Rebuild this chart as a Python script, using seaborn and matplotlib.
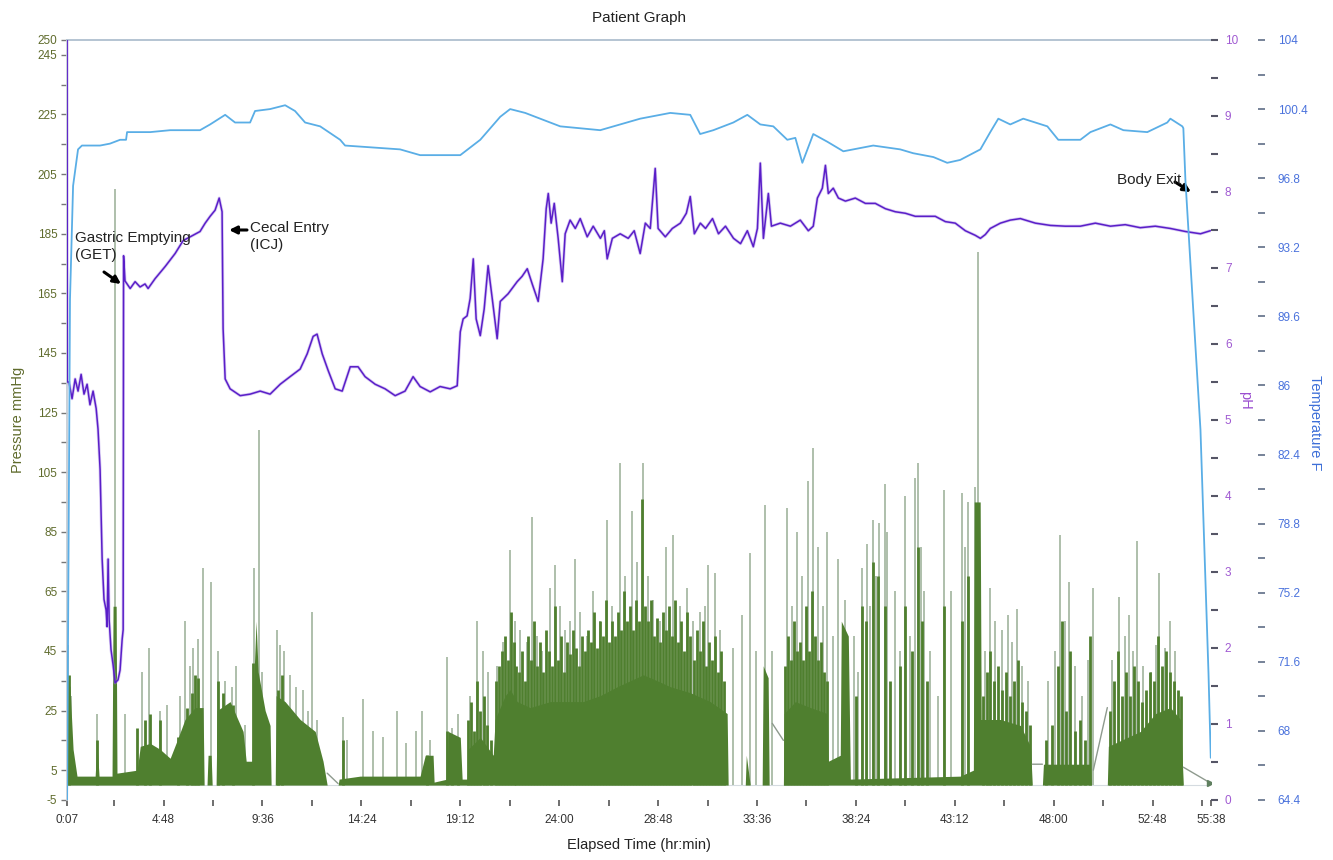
import numpy as np
import matplotlib
matplotlib.use("Agg")
import matplotlib.pyplot as plt
import seaborn as sns

# ---------------- data (time in hours) ----------------
temp_t = [0.12, 0.26, 0.41, 0.65, 0.84, 1.72, 2.20, 2.69, 2.98, 3.03, 4.15, 5.12, 6.57, 7.06, 7.79,
          8.27, 9.00, 9.24, 9.97, 10.70, 11.18, 11.67, 12.40, 13.37, 13.61, 16.28, 17.25, 19.20,
          20.17, 21.14, 21.62, 22.35, 23.32, 24.05, 25.99, 27.93, 29.39, 30.36, 30.84, 31.48,
          32.45, 33.13, 33.76, 34.39, 35.07, 35.46, 35.80, 36.33, 37.01, 37.79, 39.24, 40.55,
          41.18, 42.16, 42.83, 43.46, 44.44, 44.92, 45.31, 45.89, 46.52, 47.69, 48.22, 49.29,
          49.78, 50.75, 51.38, 52.54, 53.51, 53.66, 54.24, 54.29, 54.39, 55.12, 55.51, 55.62]
temp_f = [64.4, 90.5, 96.4, 98.3, 98.5, 98.5, 98.6, 98.8, 98.8, 99.2, 99.2, 99.3, 99.3, 99.6, 100.1,
          99.7, 99.7, 100.3, 100.4, 100.6, 100.3, 99.7, 99.5, 98.8, 98.5, 98.3, 98.0, 98.0,
          98.8, 100.0, 100.4, 100.2, 99.8, 99.5, 99.3, 99.9, 100.2, 100.1, 99.1, 99.3,
          99.7, 100.1, 99.6, 99.5, 98.8, 98.9, 97.6, 99.1, 98.7, 98.2, 98.5, 98.3,
          98.1, 97.9, 97.6, 97.75, 98.3, 99.2, 99.9, 99.6, 99.9, 99.5, 98.8, 98.8,
          99.2, 99.6, 99.3, 99.2, 99.7, 99.9, 99.5, 99.4, 96.7, 83.7, 71.0, 66.6]

ph_t = [0.12, 0.13, 0.21, 0.36, 0.51, 0.65, 0.80, 0.94, 1.09, 1.23, 1.38, 1.53, 1.62, 1.72, 1.82,
        1.91, 2.01, 2.06, 2.11, 2.16, 2.25, 2.35, 2.45, 2.59, 2.69, 2.79, 2.84, 2.86, 2.93, 3.18,
        3.42, 3.66, 3.90, 4.05, 4.39, 4.88, 5.36, 5.75, 6.09, 6.57, 6.82, 7.06, 7.30, 7.50, 7.64,
        7.69, 7.79, 8.03, 8.52, 9.00, 9.49, 9.97, 10.46, 10.94, 11.43, 11.77, 12.06, 12.25, 12.50,
        12.79, 13.13, 13.47, 13.86, 14.24, 14.58, 15.07, 15.55, 16.04, 16.52, 16.91, 17.25, 17.74,
        18.22, 18.71, 19.05, 19.20, 19.34, 19.53, 19.68, 19.83, 19.97, 20.17, 20.36, 20.55, 20.75,
        20.99, 21.14, 21.52, 21.96, 22.20, 22.45, 22.69, 22.98, 23.22, 23.37, 23.47, 23.61, 23.76,
        23.95, 24.15, 24.29, 24.53, 24.78, 25.02, 25.36, 25.65, 26.00, 26.19, 26.33, 26.58, 26.96,
        27.35, 27.64, 27.93, 28.18, 28.42, 28.66, 28.80, 29.15, 29.49, 29.88, 30.17, 30.36, 30.56,
        30.85, 31.10, 31.44, 31.73, 32.07, 32.46, 32.80, 33.13, 33.42, 33.62, 33.76, 33.91, 34.15,
        34.30, 34.73, 35.22, 35.70, 36.09, 36.33, 36.53, 36.77, 36.92, 37.06, 37.30, 37.55, 37.89,
        38.37, 38.86, 39.34, 39.83, 40.31, 40.80, 41.28, 41.77, 42.25, 42.74, 43.22, 43.71, 44.19,
        44.44, 44.68, 44.92, 45.41, 45.89, 46.38, 47.11, 47.84, 48.56, 49.29, 50.02, 50.75, 51.47,
        52.20, 52.93, 53.66, 54.39, 55.12, 55.60]
ph_v = [10.0, 5.5, 5.5, 5.28, 5.54, 5.38, 5.6, 5.34, 5.47, 5.2, 5.38, 5.15, 4.88, 4.35, 3.17,
        2.64, 2.5, 2.28, 3.17, 2.37, 1.98, 1.78, 1.54, 1.58, 1.71, 2.11, 2.24, 7.16, 6.83, 6.73,
        6.82, 6.75, 6.79, 6.73, 6.86, 7.02, 7.19, 7.36, 7.41, 7.48, 7.59, 7.68, 7.76, 7.92, 7.74,
        6.2, 5.54, 5.41, 5.32, 5.34, 5.38, 5.34, 5.47, 5.57, 5.67, 5.87, 6.1, 6.13, 5.87,
        5.65, 5.41, 5.38, 5.7, 5.7, 5.57, 5.47, 5.41, 5.32, 5.38, 5.57, 5.44, 5.37,
        5.44, 5.41, 5.45, 6.16, 6.33, 6.37, 6.6, 7.12, 6.33, 6.11, 6.46, 7.03, 6.6,
        6.07, 6.56, 6.66, 6.82, 6.89, 6.99, 6.79, 6.56, 7.12, 7.78, 7.98, 7.59, 7.85,
        7.39, 6.82, 7.45, 7.63, 7.52, 7.65, 7.41, 7.55, 7.39, 7.49, 7.12, 7.39, 7.45,
        7.39, 7.49, 7.19, 7.59, 7.52, 8.31, 7.52, 7.41, 7.52, 7.59, 7.72, 7.94, 7.45,
        7.59, 7.52, 7.65, 7.45, 7.55, 7.39, 7.32, 7.49, 7.28, 7.52, 8.38, 7.39, 7.98,
        7.55, 7.59, 7.55, 7.63, 7.49, 7.55, 7.92, 8.05, 8.35, 7.98, 8.05, 7.92, 7.88,
        7.92, 7.85, 7.85, 7.78, 7.74, 7.72, 7.68, 7.68, 7.68, 7.61, 7.59, 7.49, 7.43,
        7.39, 7.44, 7.52, 7.59, 7.63, 7.65, 7.59, 7.56, 7.55, 7.55, 7.59, 7.55, 7.57,
        7.53, 7.55, 7.52, 7.48, 7.45, 7.49]

# pressure: dense baseline activity (body)
body_t = [0.12, 0.14, 0.26, 0.41, 0.60, 1.48, 1.57, 1.67, 2.30, 2.35, 2.50, 2.54, 3.52, 3.67, 4.15,
          4.63, 5.12, 5.46, 5.84, 6.33, 6.72, 6.77, 6.91, 6.96, 7.11, 7.16, 7.35, 7.40, 8.03, 8.66,
          8.81, 9.10, 9.15, 9.29, 9.39, 9.73, 9.97, 10.02, 10.22, 10.26, 10.70, 11.43, 12.16, 12.54,
          12.74, 13.27, 13.32, 14.34, 17.25, 17.50, 17.88, 17.93, 18.56, 18.61, 19.20, 19.29, 19.54,
          19.58, 20.17, 20.80, 20.89, 21.38, 21.62, 21.96, 22.59, 23.56, 24.53, 25.16, 25.99, 26.82,
          27.45, 28.08, 28.42, 28.76, 29.39, 30.36, 31.33, 32.15, 32.20, 33.03, 33.08, 33.27, 33.85,
          33.90, 34.14, 34.19, 34.88, 34.92, 35.46, 36.19, 37.01, 37.06, 37.64, 37.69, 38.03, 38.13,
          43.46, 44.10, 44.14, 44.43, 44.48, 45.41, 46.38, 46.87, 46.96, 47.45, 47.50, 49.78, 49.83,
          50.60, 50.65, 52.21, 52.94, 53.66, 54.15, 54.29]
body_p = [0, 35, 33, 12, 3, 3, 14, 3, 3, 60, 60, 4, 5, 13, 14,
          12, 9, 15, 22, 26, 26, 0, 0, 10, 10, 0, 0, 25, 28, 18,
          8, 8, 30, 55, 38, 25, 20, 0, 0, 30, 28, 22, 18, 8,
          0, 0, 2, 3, 3, 10, 10, 1, 2, 18, 16, 2, 2,
          12, 16, 10, 22, 30, 32, 28, 26, 28, 28, 28, 30, 33,
          35, 37, 36, 35, 33, 31, 28, 24, 0, 0, 10, 0, 0,
          40, 36, 0, 0, 24, 28, 26, 24, 8, 10, 55, 50, 2,
          3, 5, 95, 95, 22, 22, 20, 13, 0, 0, 7, 7, 0,
          0, 13, 18, 24, 26, 22, 0]

# dark (solid) pressure bars on top of the body
dark_t = [0.21, 1.57, 3.51, 3.89, 4.15, 4.63, 5.50, 5.94, 6.18, 6.33, 6.48, 7.45, 7.69, 8.17, 9.14,
          10.35, 10.54, 13.51, 17.59, 18.56, 18.80, 19.10,
          19.58, 19.73, 19.87, 20.02, 20.17, 20.36, 20.51, 20.70, 20.94, 21.09, 21.23, 21.38, 21.52,
          21.67, 21.82, 21.91, 22.06, 22.20, 22.35, 22.49, 22.64, 22.79, 22.93, 23.08, 23.22, 23.37,
          23.52, 23.66, 23.81, 23.95, 24.10, 24.24, 24.39, 24.53, 24.68, 24.83, 24.97, 25.12, 25.26,
          25.41, 25.55, 25.70, 25.84, 25.99, 26.14, 26.28, 26.43, 26.57, 26.72, 26.86, 27.01, 27.16,
          27.30, 27.45, 27.59, 27.74, 27.88, 28.03, 28.17, 28.32, 28.47, 28.61, 28.76, 28.90, 29.05,
          29.20, 29.34, 29.49, 29.63, 29.78, 29.92, 30.07, 30.21, 30.36, 30.55, 30.70, 30.84, 30.99,
          31.14, 31.28, 31.43, 31.57, 31.72, 31.86, 32.01,
          34.97, 35.11, 35.26, 35.40, 35.55, 35.70, 35.84, 35.99, 36.13, 36.28, 36.43, 36.57, 36.72,
          36.86, 37.01,
          38.42, 38.71, 38.90, 39.24, 39.49, 39.83, 40.07, 40.55, 40.80, 41.14, 41.43, 41.62, 41.86,
          42.69, 43.56, 43.85,
          44.58, 44.78, 44.92, 45.12, 45.31, 45.50, 45.70, 45.89, 46.09, 46.28, 46.48, 46.67, 46.87,
          47.64, 47.93, 48.22, 48.42, 48.61, 48.80, 49.05, 49.29, 49.53, 49.78,
          50.75, 50.94, 51.14, 51.33, 51.52, 51.72, 51.91, 52.11, 52.30, 52.50, 52.69, 52.88, 53.08,
          53.27, 53.47, 53.66, 53.85, 54.05, 54.19]
dark_p = [37, 15, 19, 22, 24, 22, 16, 26, 31, 37, 36, 35, 31, 27, 41,
          32, 37, 15, 10, 18, 8, 12,
          22, 28, 18, 35, 25, 30, 20, 15, 35, 40, 45, 50, 42,
          58, 48, 40, 38, 45, 35, 50, 42, 55, 40, 48, 38, 52,
          45, 40, 60, 42, 50, 38, 48, 44, 52, 46, 40, 50, 45,
          52, 48, 58, 46, 55, 50, 62, 48, 55, 50, 58, 52, 65,
          55, 60, 52, 62, 55, 96, 60, 55, 62, 50, 56, 48, 58,
          52, 60, 50, 62, 48, 55, 45, 58, 50, 42, 52, 45, 55,
          40, 48, 42, 50, 38, 45, 35,
          40, 50, 42, 55, 45, 48, 42, 60, 45, 65, 50, 42, 48,
          38, 35,
          30, 60, 55, 75, 70, 60, 35, 40, 60, 45, 80, 55, 35,
          60, 55, 70,
          30, 38, 45, 35, 40, 32, 38, 30, 35, 42, 28, 25, 20,
          15, 20, 40, 55, 25, 45, 18, 22, 15, 50,
          25, 35, 45, 30, 38, 30, 40, 35, 28, 32, 38, 35, 50,
          40, 45, 38, 35, 32, 30]

# individual tall contraction spikes (lighter)
spike_t = [0.17, 0.31, 1.57, 2.45, 2.93, 3.76, 4.10, 4.63, 4.97, 5.61, 5.84, 6.09, 6.23, 6.48, 6.72,
           7.11, 7.45, 7.79, 8.13, 8.32, 8.76, 9.19, 9.44, 9.58, 10.31, 10.46, 10.65, 10.94, 11.23,
           11.57, 11.82, 12.01, 12.25, 13.51, 13.71, 14.49, 14.97, 15.46, 16.14, 16.57, 17.06, 17.35,
           17.74, 18.56, 18.81, 19.10, 19.68, 20.03, 20.31, 20.55, 20.99, 21.28, 21.62, 21.86, 22.11,
           22.45, 22.69, 22.93, 23.17, 23.56, 23.80, 24.05, 24.29, 24.53, 24.78, 25.02, 25.36, 25.65,
           25.99, 26.33, 26.57, 26.96, 27.20, 27.54, 27.79, 28.08, 28.32, 28.56, 28.90, 29.20, 29.53,
           29.87, 30.21, 30.50, 30.84, 31.09, 31.23, 31.57, 31.81, 32.44, 32.88, 33.27, 33.56, 34.00,
           34.34, 35.07, 35.31, 35.55, 35.80, 36.09, 36.33, 36.57, 36.82, 37.01, 37.30, 37.54, 37.88,
           38.32, 38.52, 38.71, 38.95, 39.10, 39.24, 39.39, 39.53, 39.83, 39.92, 40.31, 40.55, 40.80,
           41.04, 41.28, 41.43, 41.57, 41.72, 42.01, 42.40, 42.69, 43.03, 43.56, 43.71, 43.85, 44.19,
           44.34, 44.68, 44.92, 45.16, 45.50, 45.80, 45.99, 46.23, 46.47, 46.77, 47.74, 48.08, 48.32,
           48.56, 48.76, 49.05, 49.39, 49.68, 49.92, 50.85, 51.19, 51.48, 51.67, 51.87, 52.06, 52.31,
           52.70, 52.94, 53.13, 53.42, 53.66, 53.90]
spike_p = [47, 30, 24, 200, 24, 38, 46, 25, 27, 30, 55, 40, 46, 49, 73,
           68, 45, 35, 33, 40, 20, 73, 119, 38, 52, 47, 45, 37, 33,
           32, 25, 58, 22, 23, 15, 29, 18, 16, 25, 14, 18, 25,
           15, 43, 19, 24, 30, 55, 45, 38, 40, 48, 79, 55, 52,
           48, 90, 50, 45, 66, 74, 60, 52, 55, 76, 58, 50, 65,
           55, 89, 60, 108, 70, 92, 75, 108, 70, 62, 55, 80, 84,
           60, 66, 55, 58, 60, 74, 71, 52, 46, 57, 78, 45, 94,
           45, 93, 60, 85, 70, 102, 113, 80, 60, 85, 50, 76, 62,
           50, 38, 73, 81, 60, 89, 70, 88, 101, 85, 65, 45, 97,
           50, 103, 108, 80, 65, 45, 30, 99, 65, 98, 80, 95, 100,
           179, 45, 66, 55, 52, 57, 48, 59, 40, 35, 35, 45, 84,
           55, 68, 40, 30, 42, 66, 42, 63, 50, 57, 45, 82, 40,
           38, 47, 71, 46, 55, 45]

# connecting trace across gaps (NaN separates segments)
gap_t = [12.74, 13.27, np.nan, 34.34, 34.88, np.nan, 46.96, 47.45, np.nan, 49.92, 50.60, np.nan, 54.29, 55.60]
gap_p = [4, 0.5, np.nan, 20.7, 15, np.nan, 7, 7, np.nan, 5, 26, np.nan, 6, 0.7]

x_major = [0.117, 4.8, 9.6, 14.4, 19.2, 24.0, 28.8, 33.6, 38.4, 43.2, 48.0, 52.8, 55.633]
x_labels = ["0:07", "4:48", "9:36", "14:24", "19:12", "24:00", "28:48", "33:36", "38:24",
            "43:12", "48:00", "52:48", "55:38"]
x_minor = [2.4, 7.2, 12.0, 16.8, 21.6, 26.4, 31.2, 36.0, 40.8, 45.6, 50.4, 55.2]
p_major = [-5, 5, 25, 45, 65, 85, 105, 125, 145, 165, 185, 205, 225, 245, 250]
p_minor = [15, 35, 55, 75, 95, 115, 135, 155, 175, 195, 215, 235]
ph_major = [0, 1, 2, 3, 4, 5, 6, 7, 8, 9, 10]
temp_major = [64.4, 68.0, 71.6, 75.2, 78.8, 82.4, 86.0, 89.6, 93.2, 96.8, 100.4, 104.0]
temp_labels = ["64.4", "68", "71.6", "75.2", "78.8", "82.4", "86", "89.6", "93.2", "96.8", "100.4", "104"]

# ---------------- style ----------------
sns.set_theme(style="white")
plt.rcParams['font.family'] = ['Liberation Sans', 'DejaVu Sans']

GREEN = "#4f7f2f"
SPIKE = "#98ae95"
PH_C = "#5a1ec8"
PH_HALO = "#a98be6"
TEMP_C = "#5aaee6"
OLIVE = "#5f6b2c"
PURPLE_T = "#a05ad2"
BLUE_T = "#4a72dc"

fig = plt.figure(figsize=(13.33, 8.6), dpi=100)
ax = fig.add_axes([0.0503, 0.0698, 0.8582, 0.8837])
ax2 = ax.twinx()
ax3 = ax.twinx()

# pressure
ax.vlines(spike_t, 0, spike_p, color=SPIKE, lw=1.1, zorder=1)
ax.fill_between(body_t, 0, body_p, color=GREEN, lw=0, zorder=2)
ax.vlines(dark_t, 0, dark_p, color=GREEN, lw=2.0, zorder=2)
ax.plot(gap_t, gap_p, color="#8e9a8e", lw=1.0, zorder=2)
ax.plot([55.60], [0.7], marker=">", ms=4, color="#5f7f5f", zorder=3)
ax.axhline(0, color="#d5dbe0", lw=0.8, zorder=0.5)

# pH
sns.lineplot(x=ph_t, y=ph_v, ax=ax2, estimator=None, sort=False, color=PH_HALO, lw=2.2, alpha=0.45)
sns.lineplot(x=ph_t, y=ph_v, ax=ax2, estimator=None, sort=False, color=PH_C, lw=1.1)

# temperature
sns.lineplot(x=temp_t, y=temp_f, ax=ax3, estimator=None, sort=False, color=TEMP_C, lw=1.3)

# ---------------- axes ----------------
ax.set_xlim(0.117, 55.633)
ax.set_ylim(-5, 250)
ax2.set_ylim(0, 10)
ax3.set_ylim(64.4, 104)
for a in (ax2, ax3):
    a.set_xlim(0.117, 55.633)
    a.set_ylabel("")
    a.set_xlabel("")

ax.set_xticks(x_major)
ax.set_xticklabels(x_labels)
ax.set_xticks(x_minor, minor=True)
ax.set_yticks(p_major)
ax.set_yticklabels([str(v) for v in p_major])
ax.set_yticks(p_minor, minor=True)
ax.tick_params(axis="x", which="both", direction="out", bottom=True, length=4, width=1.2,
               color="#555555", labelsize=8.5, labelcolor="#333333", pad=6)
ax.tick_params(axis="y", which="both", direction="out", left=True, length=4, width=1,
               color="#777777", labelsize=8.5, labelcolor=OLIVE, pad=3)

ax2.set_yticks(ph_major)
ax2.set_yticklabels([str(v) for v in ph_major])
ax2.set_yticks(np.arange(0.5, 10, 1.0), minor=True)
ax2.tick_params(axis="y", which="both", direction="out", right=True, length=5, width=1.5,
                color="#555566", labelsize=8.5, labelcolor=PURPLE_T, pad=5)

ax3.spines["right"].set_position(("outward", 34))
ax3.set_yticks(temp_major)
ax3.set_yticklabels(temp_labels)
ax3.set_yticks([66.2, 69.8, 73.4, 77.0, 80.6, 84.2, 87.8, 91.4, 95.0, 98.6, 102.2], minor=True)
ax3.tick_params(axis="y", which="both", direction="out", right=True, length=5, width=1.3,
                color="#6b7890", labelsize=8.5, labelcolor=BLUE_T, pad=9)

for s in ("bottom", "right"):
    ax.spines[s].set_visible(False)
ax.spines["top"].set_color("#b4c4d2")
ax.spines["top"].set_linewidth(1.4)
ax.spines["left"].set_color("#c4ccd4")
for a in (ax2, ax3):
    for s in a.spines.values():
        s.set_visible(False)

# ---------------- text ----------------
fig.text(0.4794, 0.979, "Patient Graph", ha="center", va="center", fontsize=11, color="#222222")
fig.text(0.4794, 0.017, "Elapsed Time (hr:min)", ha="center", va="center", fontsize=10.5, color="#222222")
fig.text(0.0135, 0.5116, "Pressure mmHg", ha="center", va="center", rotation=90, fontsize=10.5, color=OLIVE)
fig.text(0.934, 0.535, "pH", ha="center", va="center", rotation=270, fontsize=10.5, color="#9b4fd0")
fig.text(0.9865, 0.509, "Temperature F", ha="center", va="center", rotation=270, fontsize=10.5, color="#3d6fd8")

def px(x, y):
    return (x, 860 - y)

arrow = dict(arrowstyle="-|>", color="black", lw=2.2, mutation_scale=11, shrinkA=0, shrinkB=0)
fig.text(75 / 1333, 1 - 231 / 860, "Gastric Emptying\n(GET)", ha="left", va="top", fontsize=11,
         linespacing=1.25, color="#222222")
ax.annotate("", xy=px(121, 284), xytext=px(104, 272), xycoords="figure pixels",
            textcoords="figure pixels", arrowprops=arrow)
fig.text(250 / 1333, 1 - 221 / 860, "Cecal Entry\n(ICJ)", ha="left", va="top", fontsize=11,
         linespacing=1.25, color="#222222")
ax.annotate("", xy=px(229, 230), xytext=px(247, 230), xycoords="figure pixels",
            textcoords="figure pixels", arrowprops=arrow)
fig.text(1117 / 1333, 1 - 180 / 860, "Body Exit", ha="left", va="center", fontsize=11, color="#222222")
ax.annotate("", xy=px(1191, 192), xytext=px(1175, 182), xycoords="figure pixels",
            textcoords="figure pixels", arrowprops=arrow)

fig.savefig("out.png", dpi=100, facecolor="white")
